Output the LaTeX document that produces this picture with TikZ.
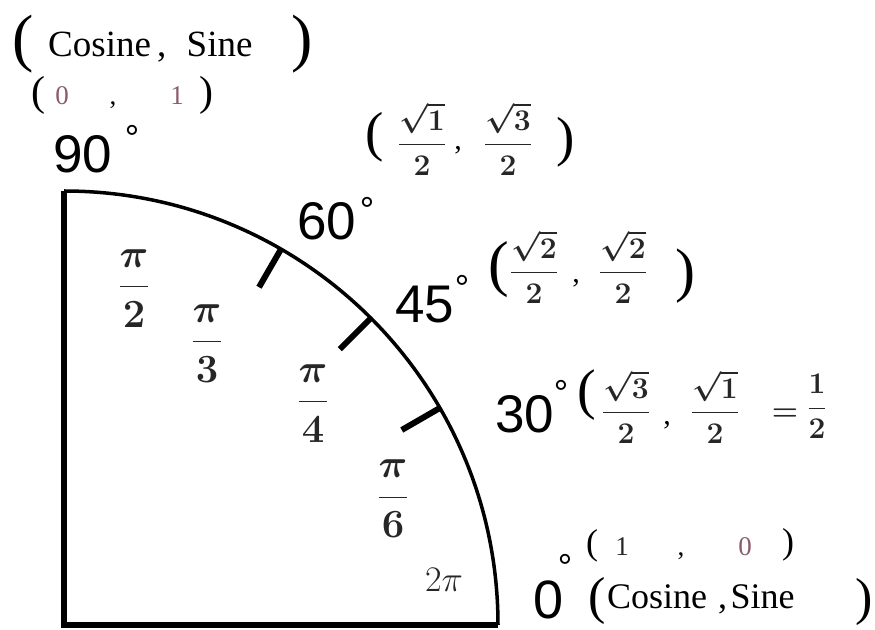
\RequirePackage{fix-cm}
\documentclass[tikz,border=0pt]{standalone}
\usepackage{amsmath}
\usepackage{fontspec}
\setmainfont{Liberation Serif}
\newfontfamily\arialfont{Liberation Sans}
\usepackage{tikz}
\usetikzlibrary{calc}
\definecolor{digred}{HTML}{8C5A6A}
\definecolor{inkgray}{HTML}{262626}

\begin{document}
\begin{tikzpicture}[x=1pt,y=1pt,
    paren/.style={inner sep=0pt,font=\fontsize{#1}{#1}\selectfont}]
  \tikzstyle{anglbl}=[font=\arialfont\fontsize{53}{53}\selectfont,inner sep=0pt,anchor=base west]
  \tikzstyle{degmark}=[font=\arialfont\fontsize{36}{36}\selectfont,inner sep=0pt,text depth=-14pt,anchor=north]
  \tikzstyle{cslbl}=[font=\fontsize{37}{37}\selectfont,inner sep=0pt,anchor=base west]
  \tikzstyle{vals}=[font=\fontsize{27}{27}\selectfont,inner sep=0pt,anchor=base]
  \tikzstyle{sqfrac}=[font=\fontsize{30}{30}\selectfont\boldmath,inner sep=0pt,anchor=base,text=inkgray]
  \tikzstyle{pifrac}=[font=\fontsize{40}{40}\selectfont\boldmath,inner sep=0pt,anchor=base,text=inkgray]
  \useasboundingbox (0,0) rectangle (875,629);
  % quarter circle
  \coordinate (O) at (64,4);
  \draw[line width=3.5pt] (64,438) arc[start angle=90,end angle=0,radius=434];
  \draw[line width=6pt] (64,438) -- (O) -- (498,4);
  % ticks on the arc
  \foreach \a in {30,45,60} {
    \coordinate (t\a) at ($(O)+(\a:435)$);
    \draw[line width=6pt] (t\a) -- ($(O)+(\a:390)$);
  }
  % 90 degrees
  \node[paren=64] (lp1) at (23,585) {(};
  \node[cslbl] (cs1) at (48,572) {Cosine\,,\hspace{0.55em}Sine};
  \node[paren=64] (rp1) at (302,585) {)};
  \node[paren=42] (lp2) at (38,534) {(};
  \node[vals,text=digred] (c90) at (62,524) {0};
  \node[vals] (cm90) at (113,524) {,};
  \node[vals,text=digred] (s90) at (177,524) {1};
  \node[paren=42] (rp2) at (206,534) {)};
  \node[anglbl] (a90) at (53,456) {90};
  \node[degmark] (d90) at (132,504) {°};
  % 60 degrees
  \node[paren=55] (lp3) at (375,492) {(};
  \node[sqfrac] (c60) at (422,476.5) {$\dfrac{\sqrt{1}}{2}$};
  \node[vals,font=\fontsize{30}{30}\selectfont] (cm60) at (458,479) {,};
  \node[sqfrac] (s60) at (508,476.5) {$\dfrac{\sqrt{3}}{2}$};
  \node[paren=55] (rp3) at (566,487) {)};
  \node[anglbl] (a60) at (297,389) {60};
  \node[degmark] (d60) at (367,432) {°};
  % 45 degrees
  \node[anglbl] (a45) at (395,306) {45};
  \node[degmark] (d45) at (462,354) {°};
  \node[paren=62] (lp4) at (499,359) {(};
  \node[sqfrac] (c45) at (534,348.5) {$\dfrac{\sqrt{2}}{2}$};
  \node[vals,font=\fontsize{30}{30}\selectfont] (cm45) at (576,346) {,};
  \node[sqfrac] (s45) at (623,348.5) {$\dfrac{\sqrt{2}}{2}$};
  \node[paren=60] (rp4) at (685,353) {)};
  % 30 degrees
  \node[anglbl] (a30) at (495,196) {30};
  \node[degmark] (d30) at (561,249) {°};
  \node[paren=56] (lp5) at (587,234) {(};
  \node[sqfrac] (c30) at (626,208.5) {$\dfrac{\sqrt{3}}{2}$};
  \node[vals,font=\fontsize{30}{30}\selectfont] (cm30) at (667,204) {,};
  \node[sqfrac] (s30) at (715,208.5) {$\dfrac{\sqrt{1}}{2}$};
  \node[sqfrac] (eq30) at (785,208.5) {$=$};
  \node[sqfrac] (h30) at (817,213.5) {$\dfrac{1}{2}$};
  % 0 degrees
  \node[anglbl,font=\arialfont\fontsize{54}{54}\selectfont] (a0) at (533,11) {0};
  \node[degmark] (d0) at (565,75) {°};
  \node[paren=36] (lp6) at (592,83) {(};
  \node[vals,text=inkgray] (c0) at (622,74) {1};
  \node[vals] (cm0) at (681,74) {,};
  \node[vals,text=digred] (s0) at (745,74) {0};
  \node[paren=36] (rp6) at (788,84) {)};
  \node[paren=52] (lp7) at (597,28) {(};
  \node[cslbl,font=\fontsize{36}{36}\selectfont] (cs0) at (607,21) {Cosine\hspace{0.3em},\hspace{0.1em}Sine};
  \node[paren=52] (rp7) at (864,27) {)};
  % radian labels
  \node[pifrac] (r2) at (134,332) {$\dfrac{\pi}{2}$};
  \node[pifrac] (r3) at (207,277) {$\dfrac{\pi}{3}$};
  \node[pifrac] (r4) at (313,217) {$\dfrac{\pi}{4}$};
  \node[pifrac] (r6) at (393,122) {$\dfrac{\pi}{6}$};
  \node[pifrac,anchor=center,font=\fontsize{36}{36}\selectfont] (r0) at (444,49) {$2\pi$};
\end{tikzpicture}
\end{document}
